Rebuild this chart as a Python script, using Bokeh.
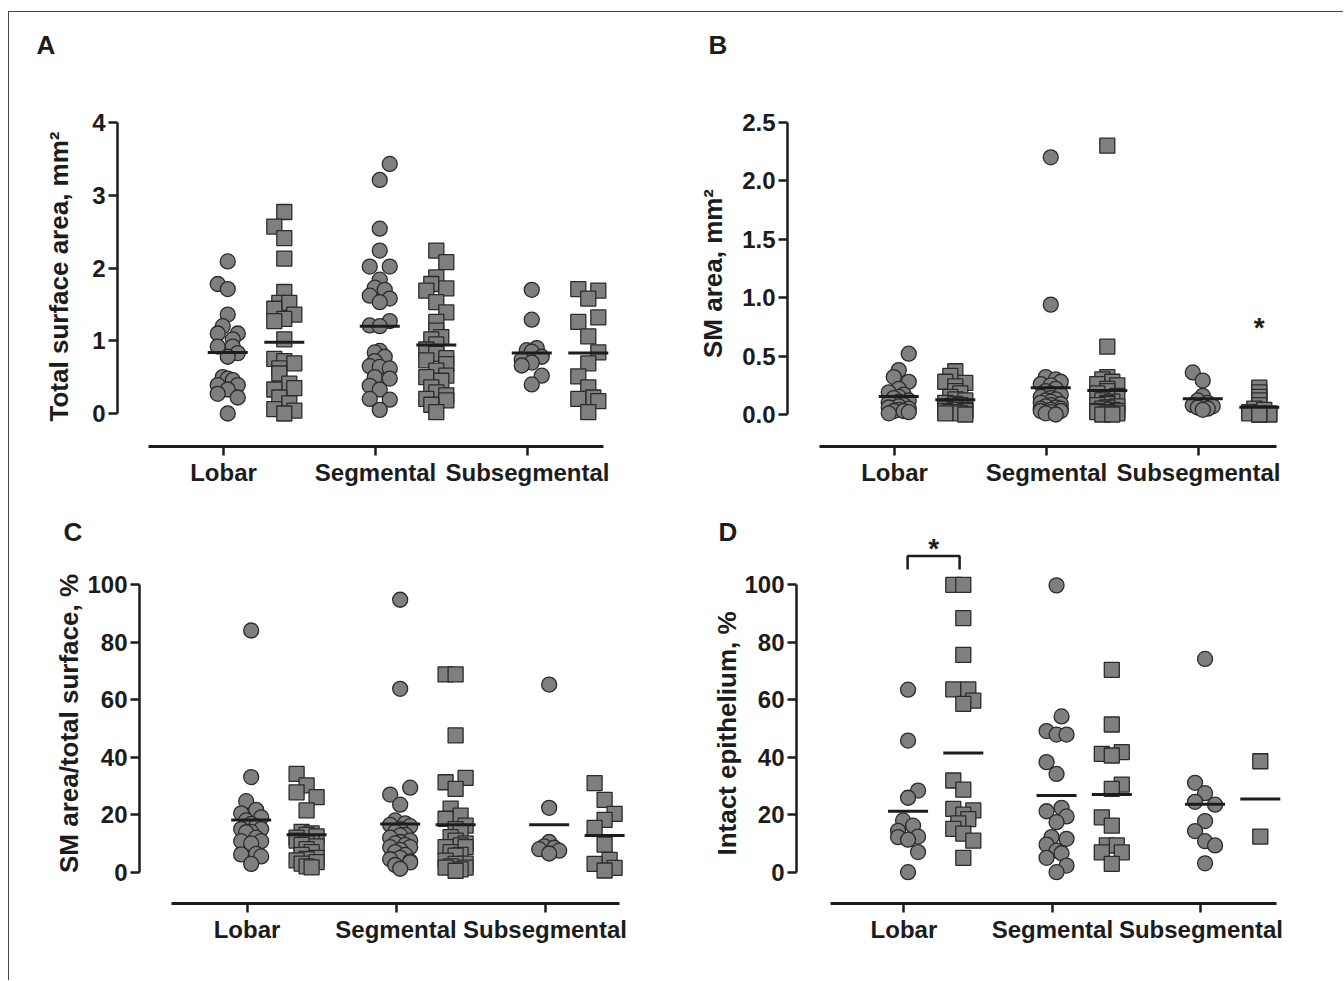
import math
from bokeh.plotting import figure
from bokeh.models import Range1d, FixedTicker, PrintfTickFormatter, Label, ColumnDataSource
from bokeh.layouts import gridplot
from bokeh.embed import file_html
from bokeh.resources import INLINE

categories = ["Lobar", "Segmental", "Subsegmental"]

# ---------------- Panel A: Total surface area, mm2 ----------------
A_circles = [
    [2.09, 1.78, 1.71, 1.36, 1.20, 1.10, 1.10, 1.02, 0.92, 0.92, 0.83, 0.78, 0.50, 0.48, 0.46, 0.39, 0.39, 0.33, 0.27, 0.22, 0.00],
    [3.43, 3.21, 2.54, 2.24, 2.02, 2.02, 1.84, 1.73, 1.70, 1.62, 1.58, 1.53, 1.27, 1.21, 1.20, 0.86, 0.84, 0.78, 0.72, 0.65, 0.64, 0.62, 0.50, 0.48, 0.38, 0.33, 0.20, 0.19, 0.05],
    [1.70, 1.29, 0.90, 0.87, 0.85, 0.78, 0.74, 0.70, 0.66, 0.52, 0.40],
]
A_circles_jit = [
    [0, -2, 0, 0, -1, -2, 2, 1, -2, 1, 2, 0, -1, 0, 1, -2, 2, 0, -2, 2, 0],
    [2, 0, 0, 0, -2, 2, 0, -1, 1, -2, 2, 0, 2, -2, 0, 0, -1, 1, -1, -2, 0, 2, -1, 2, -2, 0, -2, 2, 0],
    [0, 0, 1, -1, 0, 2, -2, 0, -2, 2, 0],
]
A_squares = [
    [2.77, 2.57, 2.41, 2.13, 1.67, 1.52, 1.52, 1.44, 1.36, 1.30, 1.27, 1.02, 0.75, 0.72, 0.69, 0.62, 0.55, 0.41, 0.35, 0.33, 0.22, 0.14, 0.06, 0.04, 0.00],
    [2.24, 2.08, 1.87, 1.78, 1.72, 1.69, 1.53, 1.39, 1.26, 1.14, 1.05, 1.02, 0.95, 0.88, 0.82, 0.76, 0.73, 0.68, 0.59, 0.52, 0.50, 0.45, 0.36, 0.29, 0.25, 0.20, 0.18, 0.12, 0.02],
    [1.71, 1.69, 1.58, 1.32, 1.26, 1.06, 0.84, 0.69, 0.51, 0.36, 0.22, 0.20, 0.17, 0.02],
]
A_squares_jit = [
    [0, -2, 0, 0, 0, -1, 1, -2, 2, 0, -2, 0, -2, 0, 2, -1, -1, 1, 2, -2, -1, 1, -2, 2, 0],
    [0, 2, 0, -1, 2, -2, 0, 2, 0, 0, 1, -1, 0, -2, 0, 2, -2, 2, 0, 2, -2, 1, -1, 0, 2, -2, 2, -1, 0],
    [-2, 2, 0, 2, -2, 0, 2, 0, -2, 0, 1, -2, 2, 0],
]
A_circle_means = [0.84, 1.20, 0.83]
A_square_means = [0.98, 0.94, 0.83]
A_yticks = [0, 1, 2, 3, 4]

# ---------------- Panel B: SM area, mm2 ----------------
B_circles = [
    [0.52, 0.38, 0.32, 0.28, 0.22, 0.19, 0.17, 0.15, 0.14, 0.12, 0.11, 0.10, 0.08, 0.07, 0.06, 0.05, 0.04, 0.03, 0.03, 0.02, 0.01],
    [2.20, 0.94, 0.32, 0.30, 0.28, 0.26, 0.25, 0.22, 0.20, 0.18, 0.17, 0.15, 0.14, 0.13, 0.12, 0.11, 0.10, 0.09, 0.08, 0.07, 0.06, 0.05, 0.05, 0.04, 0.03, 0.03, 0.02, 0.01, 0.00],
    [0.36, 0.29, 0.16, 0.12, 0.10, 0.08, 0.07, 0.07, 0.06, 0.05, 0.04],
]
B_circles_jit = [
    [2, 0, -1, 2, 0, -2, 1, 0, -1, 2, 0, -2, 1, 0, -2, 2, 0, -1, 1, 2, -2],
    [0, 0, -1, 1, 2, -2, 0, 1, -1, 0, 2, -2, 0, 1, -1, 0, -2, 2, 0, -1, 1, -2, 2, 0, -2, 2, 0, -1, 1],
    [-2, 0, 0, -1, 1, -2, 2, 0, -1, 1, 0],
]
B_squares = [
    [0.37, 0.33, 0.28, 0.27, 0.24, 0.20, 0.18, 0.15, 0.13, 0.12, 0.10, 0.09, 0.08, 0.07, 0.06, 0.05, 0.04, 0.04, 0.03, 0.03, 0.02, 0.02, 0.01, 0.01, 0.00],
    [2.30, 0.58, 0.32, 0.30, 0.28, 0.26, 0.25, 0.22, 0.20, 0.18, 0.16, 0.14, 0.12, 0.11, 0.10, 0.09, 0.08, 0.07, 0.06, 0.05, 0.04, 0.03, 0.03, 0.02, 0.02, 0.01, 0.01, 0.00, 0.00],
    [0.23, 0.19, 0.15, 0.12, 0.08, 0.05, 0.04, 0.02, 0.01, 0.01, 0.01, 0.00, 0.00, 0.00],
]
B_squares_jit = [
    [0, -1, -2, 2, 0, 0, 1, -1, 0, 2, -2, 0, 1, -1, 0, -2, 2, 0, -2, 2, 0, -1, 1, -2, 2],
    [0, 0, 0, -1, 1, -2, 2, 0, 0, -2, 2, 0, -1, 1, 0, 0, -2, 2, 0, -1, 1, -2, 2, 0, -2, 2, 0, -1, 1],
    [0, 0, 0, 0, 0, -1, 1, -2, 2, 0, -2, 2, 0, 0],
]
B_circle_means = [0.154, 0.228, 0.134]
B_square_means = [0.126, 0.205, 0.062]
B_yticks = [0.0, 0.5, 1.0, 1.5, 2.0, 2.5]
B_star_value = 0.74   # asterisk above Subsegmental squares

# ---------------- Panel C: SM area/total surface, % ----------------
C_circles = [
    [84.1, 33.1, 24.7, 21.7, 20.5, 19.1, 18.0, 16.8, 16.0, 15.0, 15.0, 14.0, 13.9, 12.0, 10.8, 10.8, 10.0, 6.4, 6.2, 5.5, 2.9],
    [94.8, 63.8, 29.4, 27.0, 23.5, 18.0, 17.0, 16.5, 16.0, 15.0, 14.0, 13.0, 12.8, 12.0, 11.0, 10.5, 10.0, 9.5, 8.7, 8.7, 7.8, 7.0, 6.0, 5.0, 4.5, 3.8, 3.4, 2.5, 1.2],
    [65.3, 22.4, 10.5, 9.0, 8.5, 8.0, 7.5, 6.5],
]
C_circles_jit = [
    [0, 0, -1, 1, -2, 2, -1, 0, 1, -2, 2, 0, -1, 1, -2, 2, 0, 1, -2, 2, 0],
    [0, 0, 2, -2, 0, -1, 1, -2, 2, 0, -1, 1, 0, -2, 2, 0, -1, 1, -2, 2, 0, -1, 1, 0, -2, 2, 2, -1, 0],
    [0, 0, 0, -1, 1, -2, 2, 0],
]
C_squares = [
    [34.2, 30.2, 27.8, 26.1, 21.5, 14.0, 13.5, 13.0, 12.5, 12.0, 11.0, 10.5, 10.0, 9.5, 9.0, 8.0, 7.0, 6.0, 5.0, 4.6, 4.1, 3.5, 3.0, 2.0, 1.7],
    [68.8, 68.8, 47.6, 32.8, 31.3, 29.0, 22.1, 19.7, 18.6, 16.2, 15.0, 14.0, 12.2, 11.0, 10.0, 9.3, 8.7, 8.7, 7.0, 6.0, 5.8, 4.0, 3.0, 2.9, 2.0, 1.6, 1.6, 1.0, 0.5],
    [31.0, 25.2, 20.3, 18.2, 15.4, 9.6, 4.3, 2.9, 1.5, 0.6],
]
C_squares_jit = [
    [-2, 0, -2, 2, 0, -1, 1, 0, 2, -2, -2, 1, 0, -1, 2, 0, 1, -1, 2, 0, -2, 2, -1, 0, 1],
    [-2, 0, 0, 2, -2, 0, -1, 1, -2, 2, 0, 1, -1, 0, 2, 1, -2, 2, -1, 1, 0, -2, 2, 0, -1, -2, 2, 1, 0],
    [-2, 0, 2, 0, -2, 0, 1, -2, 2, 0],
]
C_circle_means = [18.2, 16.8, 16.5]
C_square_means = [13.0, 16.5, 12.8]
C_yticks = [0, 20, 40, 60, 80, 100]

# ---------------- Panel D: Intact epithelium, % ----------------
D_circles = [
    [63.5, 45.8, 28.4, 25.9, 18.0, 16.2, 14.4, 12.4, 12.2, 11.3, 7.0, 0.0],
    [99.8, 54.2, 49.1, 47.9, 47.9, 38.3, 34.2, 22.4, 21.2, 19.4, 17.4, 12.2, 11.6, 9.6, 7.5, 6.6, 5.0, 2.3, 0.0],
    [74.2, 31.1, 27.5, 24.5, 23.5, 17.8, 14.3, 10.8, 9.3, 3.1],
]
D_circles_jit = [
    [0, 0, 2, 0, -1, 1, -2, 2, -2, 0, 2, 0],
    [0, 1, -2, 0, 2, -2, 0, 1, -2, 2, 0, -1, 2, -2, 0, 1, -2, 2, 0],
    [0, -2, 0, -2, 2, 0, -2, 0, 2, 0],
]
D_squares = [
    [100.0, 100.0, 88.4, 75.6, 63.6, 63.6, 59.7, 58.6, 31.9, 28.7, 22.0, 21.5, 20.0, 18.5, 17.0, 15.1, 13.4, 11.0, 5.0],
    [70.4, 51.4, 41.8, 41.2, 40.6, 30.5, 29.0, 19.1, 16.2, 9.3, 9.3, 6.9, 6.9, 2.9],
    [38.6, 12.4],
]
D_squares_jit = [
    [-2, 0, 0, 0, -2, 1, 2, 0, -2, 0, -2, 2, 0, 1, -1, -2, 0, 2, 0],
    [0, 0, 2, -2, 0, 2, 0, -2, 0, -1, 1, -2, 2, 0],
    [0, 0],
]
D_circle_means = [21.2, 26.7, 23.6]
D_square_means = [41.5, 27.0, 25.5]
D_yticks = [0, 20, 40, 60, 80, 100]
D_bracket_value = 110.0   # significance bracket over the Lobar pair
D_bracket_leg = 105.3
D_star_value = 112.7

# ---------------- styles ----------------
FILL = "#7f7f7f"
EDGE = "#2b2b2b"
INK = "#1c1c1c"
FONT = "Liberation Sans"
CIRC_OFF, SQ_OFF = 0.028, 0.40
JIT_PX = 5.0
MARKER = 15

# page-pixel geometry of each panel (grid content starts at x=9, y=12)
GEOM = {
    "A": dict(fig=(9, 12, 663, 488), yaxis_x=117, xaxis_y=446, tick0=223, ppc=152, y0=413, ppu=72.75,
              xline=(148, 603), ybounds=(0, 4), letter=(36, 44), ylabel=(58, 276), fmt="%d"),
    "B": dict(fig=(672, 12, 671, 488), yaxis_x=787, xaxis_y=446, tick0=894, ppc=152, y0=414, ppu=116.9,
              xline=(819, 1276), ybounds=(0, 2.5), letter=(708, 44), ylabel=(712, 273), fmt="%.1f"),
    "C": dict(fig=(9, 500, 663, 480), yaxis_x=139, xaxis_y=903, tick0=246.5, ppc=149, y0=871.7, ppu=2.874,
              xline=(171, 619), ybounds=(0, 100), letter=(63, 531), ylabel=(68, 723), fmt="%d"),
    "D": dict(fig=(672, 500, 671, 480), yaxis_x=796, xaxis_y=903, tick0=903.4, ppc=148.5, y0=871.7, ppu=2.874,
              xline=(830, 1276), ybounds=(0, 100), letter=(718, 531), ylabel=(726, 733), fmt="%d"),
}


def style_axis(ax, size="24px"):
    ax.axis_line_width = 2.5
    ax.axis_line_color = INK
    ax.major_tick_line_width = 2.5
    ax.major_tick_line_color = INK
    ax.major_tick_in = 0
    ax.major_tick_out = 9
    ax.minor_tick_line_color = None
    ax.major_label_text_font = FONT
    ax.major_label_text_font_style = "bold"
    ax.major_label_text_font_size = size
    ax.major_label_text_color = INK


def make_panel(key, ylabel, circles, circ_jit, squares, sq_jit, circ_means, sq_means, yticks):
    g = GEOM[key]
    fx, fy, W, H = g["fig"]
    t0, ppc, y0, ppu = g["tick0"], g["ppc"], g["y0"], g["ppu"]
    px2x = lambda px: (px - t0) / ppc
    px2y = lambda py: (y0 - py) / ppu

    p = figure(width=W, height=H, x_range=Range1d(px2x(fx), px2x(fx + W)),
               y_range=Range1d(px2y(fy + H), px2y(fy)),
               output_backend="svg", toolbar_location=None,
               min_border_left=0, min_border_right=0, min_border_top=0, min_border_bottom=0)
    p.title.visible = False
    p.outline_line_color = None
    p.grid.visible = False
    p.background_fill_color = "white"
    p.border_fill_color = "white"

    # detached category axis
    xa = p.xaxis[0]
    style_axis(xa)
    xa.axis_line_width = 3
    xa.fixed_location = px2y(g["xaxis_y"])
    xa.ticker = FixedTicker(ticks=list(range(len(categories))))
    xa.major_label_overrides = {i: c for i, c in enumerate(categories)}
    xa.bounds = (px2x(g["xline"][0]), px2x(g["xline"][1]))
    xa.major_label_standoff = 3

    ya = p.yaxis[0]
    style_axis(ya)
    ya.fixed_location = px2x(g["yaxis_x"])
    ya.ticker = FixedTicker(ticks=yticks)
    ya.formatter = PrintfTickFormatter(format=g["fmt"])
    ya.bounds = g["ybounds"]
    ya.major_label_standoff = 3

    # points
    for groups, jits, off, marker in ((circles, circ_jit, CIRC_OFF, "circle"),
                                      (squares, sq_jit, SQ_OFF, "square")):
        xs, ys = [], []
        for i, (vals, jit) in enumerate(zip(groups, jits)):
            for v, j in zip(vals, jit):
                xs.append(i + off + j * JIT_PX / ppc)
                ys.append(v)
        p.scatter(x="x", y="y", source=ColumnDataSource(dict(x=xs, y=ys)), marker=marker,
                  size=MARKER, fill_color=FILL, line_color=EDGE, line_width=1.3)

    # group means
    mx = [i + CIRC_OFF for i in range(len(categories))] + [i + SQ_OFF for i in range(len(categories))]
    my = list(circ_means) + list(sq_means)
    p.scatter(x=mx, y=my, marker="dash", size=40, line_width=3, line_color=INK)

    # y-axis title
    bx, cy = g["ylabel"]
    p.add_layout(Label(x=px2x(bx), y=px2y(cy), text=ylabel, angle=math.pi / 2,
                       text_font=FONT, text_font_style="bold", text_font_size="26px",
                       text_color=INK, text_align="center", text_baseline="alphabetic"))
    # panel letter
    lx, lyb = g["letter"]
    p.add_layout(Label(x=px2x(lx), y=px2y(lyb), text=key, text_font=FONT,
                       text_font_style="bold", text_font_size="26px", text_color=INK,
                       text_align="left", text_baseline="alphabetic"))
    return p


pA = make_panel("A", "Total surface area, mm²", A_circles, A_circles_jit, A_squares, A_squares_jit,
                A_circle_means, A_square_means, A_yticks)
pB = make_panel("B", "SM area, mm²", B_circles, B_circles_jit, B_squares, B_squares_jit,
                B_circle_means, B_square_means, B_yticks)
pC = make_panel("C", "SM area/total surface, %", C_circles, C_circles_jit, C_squares, C_squares_jit,
                C_circle_means, C_square_means, C_yticks)
pD = make_panel("D", "Intact epithelium, %", D_circles, D_circles_jit, D_squares, D_squares_jit,
                D_circle_means, D_square_means, D_yticks)

# significance marks
pB.add_layout(Label(x=2 + SQ_OFF, y=B_star_value, text="*", text_font=FONT, text_font_style="bold",
                    text_font_size="28px", text_color=INK, text_align="center", text_baseline="alphabetic"))
bx0, bx1 = 0 + CIRC_OFF - 0.003, 0 + SQ_OFF - 0.025
pD.line(x=[bx0, bx0, bx1, bx1], y=[D_bracket_leg, D_bracket_value, D_bracket_value, D_bracket_leg],
        line_width=2.5, line_color=INK)
pD.add_layout(Label(x=(bx0 + bx1) / 2, y=D_star_value, text="*", text_font=FONT, text_font_style="bold",
                    text_font_size="28px", text_color=INK, text_align="center", text_baseline="alphabetic"))

grid = gridplot([[pA, pB], [pC, pD]], toolbar_location=None)
grid.styles = {"margin-top": "11px", "margin-left": "8px",
               "border-top": "1px solid #444", "border-left": "1px solid #444"}

open("out.html", "w").write(file_html(grid, INLINE))
